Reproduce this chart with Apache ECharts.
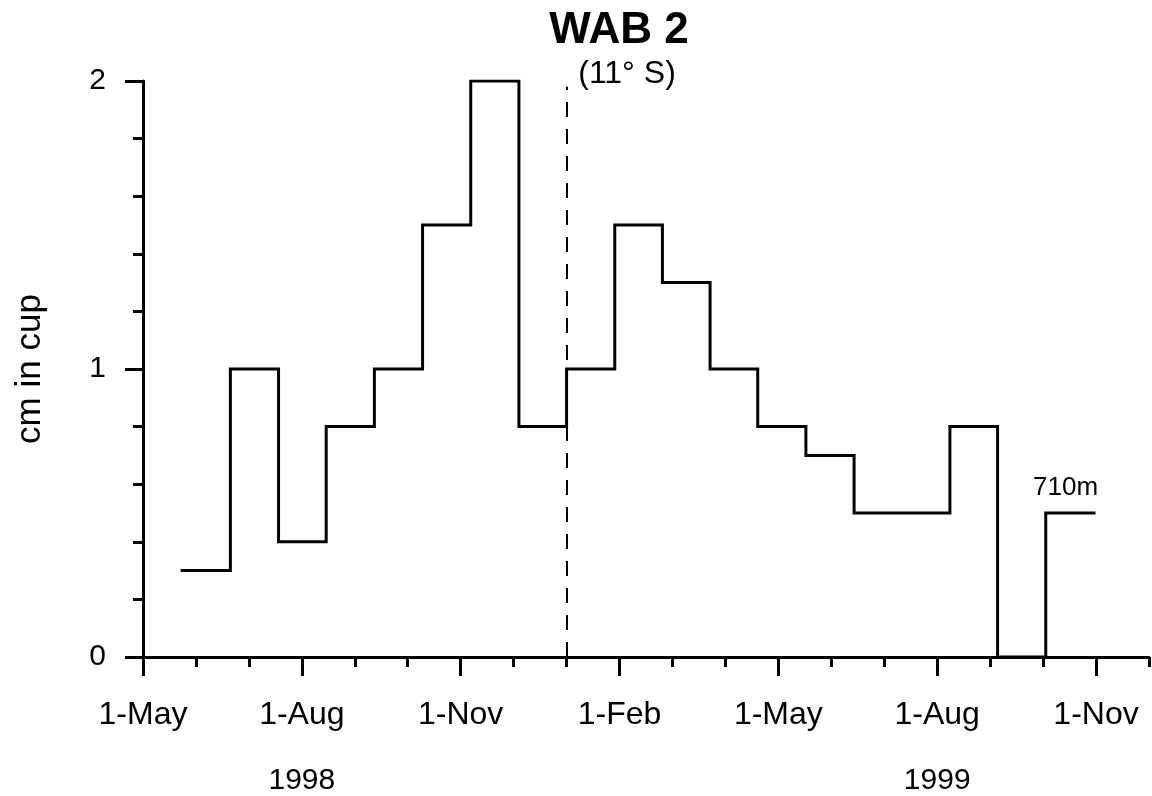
<!DOCTYPE html>
<html>
<head>
<meta charset="utf-8">
<style>
  html, body { margin: 0; padding: 0; background: #fff; }
  #chart { width: 1152px; height: 796px; }
</style>
<script src="https://cdn.jsdelivr.net/npm/echarts@6/dist/echarts.min.js"></script>
</head>
<body>
<div id="chart"></div>
<script>
// Sample windows, in months counted from 1 May 1998 (bin edges)
const binEdges = [0.71, 1.65, 2.56, 3.46, 4.37, 5.28, 6.19, 7.10, 8.00, 8.91,
                  9.81, 10.71, 11.61, 12.52, 13.43, 15.24, 16.14, 17.05, 17.99];
// Flux collected in each window (cm in cup)
const cupValues = [0.3, 1.0, 0.4, 0.8, 1.0, 1.5, 2.0, 0.8, 1.0, 1.5,
                   1.3, 1.0, 0.8, 0.7, 0.5, 0.8, 0.0, 0.5];
// Date tick labels (every 3 months) and year captions
const monthTicks = [0, 3, 6, 9, 12, 15, 18];
const monthLabels = ['1-May', '1-Aug', '1-Nov', '1-Feb', '1-May', '1-Aug', '1-Nov'];
const yearTicks = [3, 15];
const yearLabels = ['1998', '1999'];
// 1 January 1999 marker and its top
const yearBreak = 8;
const yearBreakTop = 1.98;
const depthLabel = '710m';

const FONT = '"Liberation Sans", Arial, Helvetica, sans-serif';
const INK = '#000';

// step line: one point per window start, plus the final window end
const stepData = cupValues.map((v, i) => [binEdges[i], v]);
stepData.push([binEdges[binEdges.length - 1], cupValues[cupValues.length - 1]]);

const lastMid = (binEdges[binEdges.length - 2] + binEdges[binEdges.length - 1]) / 2;

const chart = echarts.init(document.getElementById('chart'), null, { renderer: 'canvas' });

chart.setOption({
  animation: false,
  backgroundColor: '#fff',
  textStyle: { fontFamily: FONT, color: INK },
  title: [
    {
      text: 'WAB 2', left: 614, top: 4, textAlign: 'center',
      textStyle: { fontFamily: FONT, fontSize: 44, fontWeight: 'bold', color: INK }
    },
    {
      text: '(11° S)', left: 622, top: 53, textAlign: 'center',
      textStyle: { fontFamily: FONT, fontSize: 32, fontWeight: 'normal', color: INK }
    }
  ],
  grid: { left: 143, right: 3, top: 81, bottom: 139, outerBoundsMode: 'none', containLabel: false },
  xAxis: [
    {
      type: 'value', position: 'bottom', min: 0, max: 19, interval: 1,
      axisLine: { show: true, onZero: false, lineStyle: { color: INK, width: 3 } },
      axisTick: { show: true, length: 10, lineStyle: { color: INK, width: 3 } },
      axisLabel: {
        show: true, customValues: monthTicks, margin: 42,
        fontFamily: FONT, fontSize: 32, color: INK,
        formatter: (v) => { const k = monthTicks.indexOf(Math.round(v)); return k >= 0 ? monthLabels[k] : ''; }
      },
      splitLine: { show: false }
    },
    {
      type: 'value', position: 'bottom', min: 0, max: 19, interval: 1,
      axisLine: { show: false },
      axisTick: { show: true, customValues: monthTicks, length: 19, lineStyle: { color: INK, width: 3 } },
      axisLabel: {
        show: true, customValues: yearTicks, margin: 109,
        fontFamily: FONT, fontSize: 30, color: INK,
        formatter: (v) => { const k = yearTicks.indexOf(Math.round(v)); return k >= 0 ? yearLabels[k] : ''; }
      },
      splitLine: { show: false }
    }
  ],
  yAxis: {
    type: 'value', min: 0, max: 2, interval: 1,
    name: 'cm in cup', nameLocation: 'middle', nameRotate: 90, nameGap: 95,
    nameTextStyle: { fontFamily: FONT, fontSize: 35, color: INK },
    axisLine: { show: true, lineStyle: { color: INK, width: 3 } },
    axisTick: { show: true, length: 18, lineStyle: { color: INK, width: 3 } },
    minorTick: { show: true, splitNumber: 5, length: 10, lineStyle: { color: INK, width: 3 } },
    axisLabel: { margin: 37, fontFamily: FONT, fontSize: 30, color: INK },
    splitLine: { show: false },
    minorSplitLine: { show: false }
  },
  series: [
    {
      type: 'line',
      xAxisIndex: 0,
      data: stepData,
      step: 'end',
      symbol: 'none',
      lineStyle: { color: INK, width: 3, join: 'miter', cap: 'butt' },
      markLine: {
        silent: true,
        symbol: ['none', 'none'],
        label: { show: false },
        lineStyle: { color: INK, width: 2, type: [15, 12] },
        data: [[{ coord: [yearBreak, 0] }, { coord: [yearBreak, yearBreakTop] }]]
      },
      markPoint: {
        silent: true,
        symbol: 'circle',
        symbolSize: 0,
        itemStyle: { color: 'transparent' },
        label: {
          show: true, position: 'top', distance: 12, offset: [-5, 0],
          fontFamily: FONT, fontSize: 26, color: INK,
          formatter: depthLabel
        },
        data: [{ coord: [lastMid, cupValues[cupValues.length - 1]] }]
      }
    }
  ]
});
</script>
</body>
</html>
